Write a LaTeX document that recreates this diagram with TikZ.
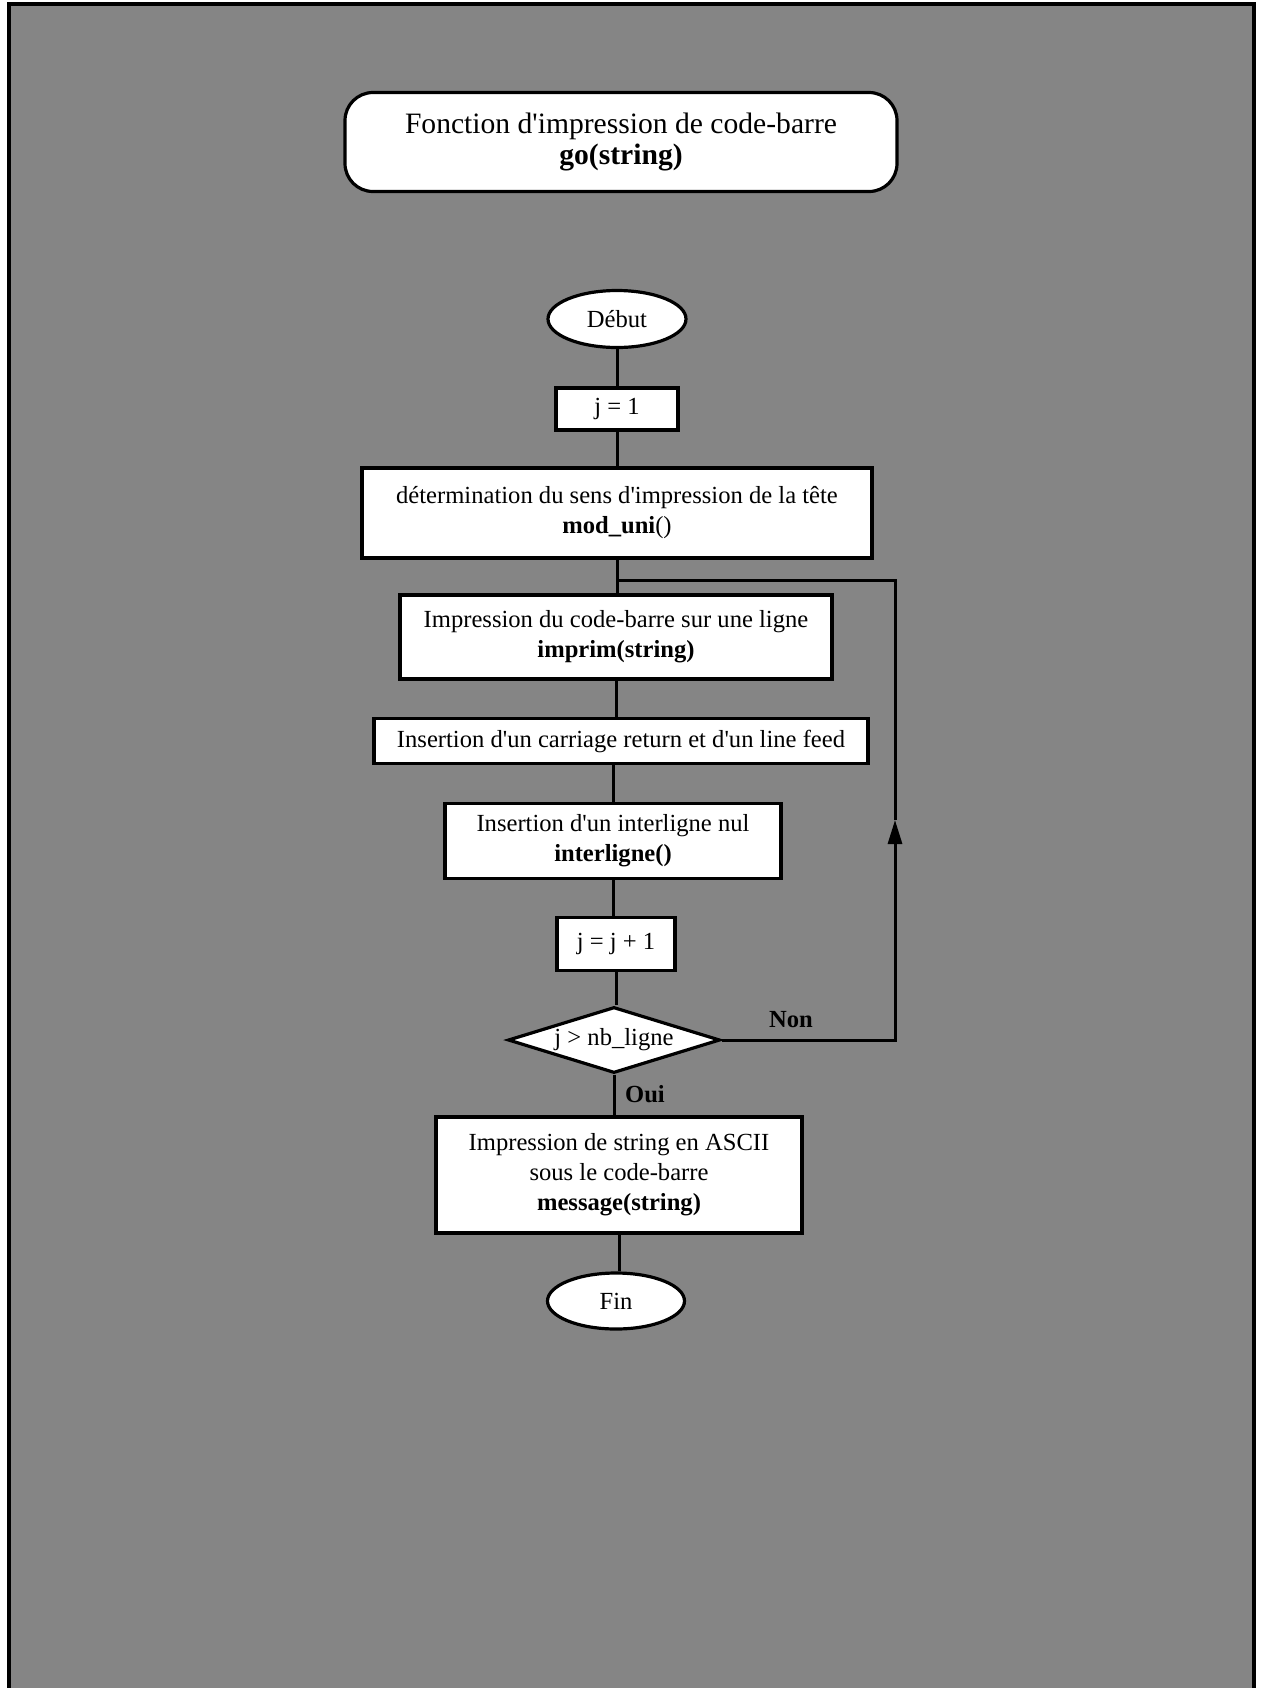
\documentclass[tikz,border=0pt]{standalone}
\usepackage{fontspec}
\setmainfont{Liberation Serif}[Ligatures=TeXOff]
\usetikzlibrary{arrows.meta,shapes.geometric}

\begin{document}
\begin{tikzpicture}[x=0.5pt, y=-0.5pt,
  font=\fontsize{12.3}{15}\selectfont,
  bx/.style={draw, fill=white, rectangle, line width=1.6pt, inner sep=0pt, align=center},
  term/.style={draw, fill=white, ellipse, line width=1.6pt, inner sep=0pt},
  test/.style={draw, fill=white, diamond, aspect=3.2, line width=1.6pt, inner sep=0pt},
  lnk/.style={line width=1.5pt},
  arr/.style={-{Triangle[length=12pt, width=7pt]}, line width=1.5pt},
  lab/.style={font=\fontsize{12.3}{15}\selectfont\bfseries}]
\useasboundingbox (0,0) rectangle (1263,1688);
% ---- page background and frame ----
\fill[black!48] (8.6,4.3) rectangle (1254,1700);
\draw[line width=2pt] (8.6,1700) -- (8.6,4.3) -- (1254,4.3) -- (1254,1700);
% ---- title ----
\node[bx, rounded corners=14pt, minimum width=276pt, minimum height=49.5pt,
  font=\fontsize{14.8}{15.5}\selectfont] (titre) at (621,142)
  {Fonction d'impression de code-barre\\ \textbf{go(string)}};
% ---- main column ----
\node[term, minimum width=69pt, minimum height=28.5pt] (debut) at (617,319) {Début};
\node[bx, minimum width=61pt, minimum height=21pt] (jun) at (617,409) {j = 1};
\node[bx, minimum width=255pt, minimum height=45pt] (sens) at (617,513)
  {détermination du sens d'impression de la tête\\ \textbf{mod\_uni}()};
\node[bx, minimum width=216pt, minimum height=42pt] (imprim) at (616,637)
  {Impression du code-barre sur une ligne\\ \textbf{imprim(string)}};
\node[bx, minimum width=247pt, minimum height=22.5pt] (crlf) at (621,741)
  {Insertion d'un carriage return et d'un line feed};
\node[bx, minimum width=168pt, minimum height=37.5pt] (interl) at (613,841)
  {Insertion d'un interligne nul\\ \textbf{interligne()}};
\node[bx, minimum width=59pt, minimum height=26.5pt] (jinc) at (616,944) {j = j + 1};
\node[test, minimum width=106pt, minimum height=33pt] (fini) at (614,1040) {j > nb\_ligne};
\node[bx, minimum width=183pt, minimum height=58pt] (msg) at (619,1175)
  {Impression de string en ASCII\\ sous le code-barre\\ \textbf{message(string)}};
\node[term, minimum width=68.5pt, minimum height=28pt] (fin) at (616,1301) {Fin};
% ---- labels of the test ----
\node[lab] (non) at (791,1020) {Non};
\node[lab] (oui) at (645,1094) {Oui};
% ---- connectors ----
\draw[lnk] (debut) -- (jun);
\draw[lnk] (jun) -- (sens);
\draw[lnk] (sens) -- (sens |- imprim.north);
\draw[lnk] (imprim) -- (imprim |- crlf.north);
\draw[lnk] (interl |- crlf.south) -- (interl);
\draw[lnk] (interl) -- (interl |- jinc.north);
\draw[lnk] (jinc) -- (jinc |- fini.north);
\draw[lnk] (fini) -- (fini |- msg.north);
\draw[lnk] (msg) -- (msg |- fin.north);
% loop back when j <= nb_ligne
\coordinate (lpbas) at (895,1040);
\coordinate (lpfleche) at (895,820);
\coordinate (lphaut) at (895,580);
\coordinate (lpentree) at (617,580);
\draw[arr] (fini.east) -- (lpbas) -- (lpfleche);
\draw[lnk] (lpfleche) -- (lphaut) -- (lpentree);
\end{tikzpicture}
\end{document}
